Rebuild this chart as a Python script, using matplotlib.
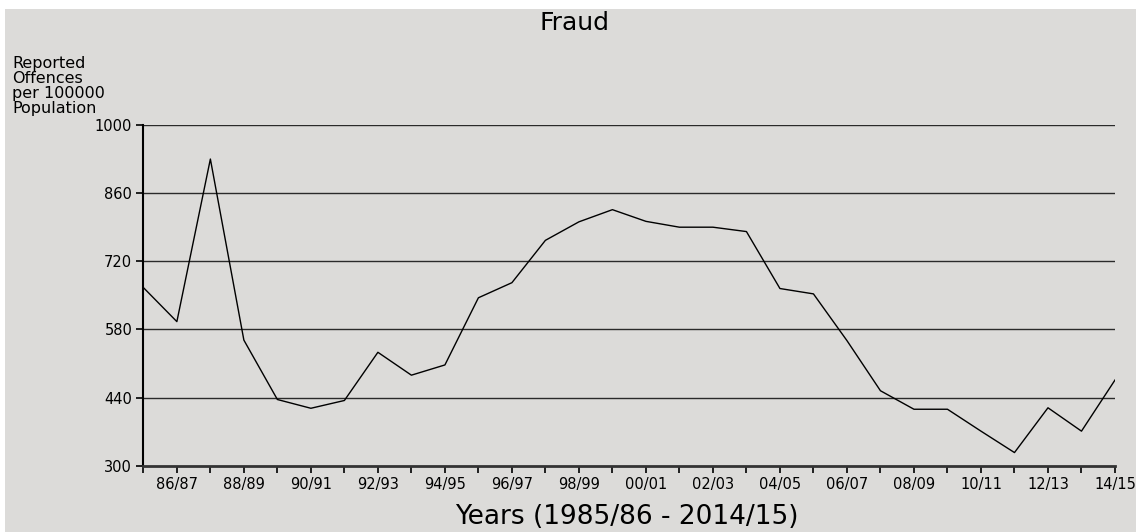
import numpy as np
import matplotlib.pyplot as plt
from matplotlib.patches import Rectangle

plt.rcParams['font.family'] = ['DejaVu Sans']

# Datos: delitos de fraude reportados por 100000 habitantes
years = ['85/86', '86/87', '87/88', '88/89', '89/90', '90/91', '91/92', '92/93',
         '93/94', '94/95', '95/96', '96/97', '97/98', '98/99', '99/00', '00/01',
         '01/02', '02/03', '03/04', '04/05', '05/06', '06/07', '07/08', '08/09',
         '09/10', '10/11', '11/12', '12/13', '13/14', '14/15']
fraud = [666, 596, 930, 558, 436, 418, 434, 533, 486, 507,
         645, 676, 763, 801, 826, 802, 790, 790, 781, 664,
         653, 557, 454, 416, 416, 371, 327, 419, 371, 476]
y_ticks = [300, 440, 580, 720, 860, 1000]

bg = '#dcdbd9'
fig = plt.figure(figsize=(11.36, 5.32), dpi=100, facecolor='white')
fig.patches.append(Rectangle((5 / 1136, 0), 1, 1 - 9 / 532, transform=fig.transFigure,
                             facecolor=bg, edgecolor='none', zorder=-10))

ax = fig.add_axes([0.1262, 0.1246, 0.8553, 0.6405])
ax.set_facecolor(bg)

x = np.arange(len(years))
ax.plot(x, fraud, color='black', linewidth=1.0, zorder=3)

ax.set_xlim(0, len(years) - 1)
ax.set_ylim(300, 1000)
ax.set_yticks(y_ticks)
ax.set_yticklabels([str(v) for v in y_ticks], fontsize=10.5)
ax.set_xticks(x)
ax.set_xticklabels([lab if i % 2 == 1 else '' for i, lab in enumerate(years)], fontsize=10.5)
ax.tick_params(axis='both', direction='out', length=5, width=1.2, color='black')
ax.tick_params(axis='x', pad=3)
ax.tick_params(axis='y', pad=3)

for v in y_ticks[1:]:
    ax.axhline(v, color='#2a2a2a', linewidth=1.0, zorder=1)

for side in ['top', 'right']:
    ax.spines[side].set_visible(False)
ax.spines['left'].set_linewidth(1.5)
ax.spines['bottom'].set_linewidth(2.0)
ax.spines['bottom'].set_color('#333333')

fig.text(575 / 1136, 1 - 23 / 532, 'Fraud', ha='center', va='center', fontsize=18)
fig.text(12 / 1136, 1 - 56 / 532, 'Reported\nOffences\nper 100000\nPopulation',
         ha='left', va='top', fontsize=11.5, linespacing=1.0)
fig.text(627 / 1136, 8 / 532, 'Years (1985/86 - 2014/15)', ha='center', va='baseline',
         fontsize=19)

fig.savefig('out.png', dpi=100, facecolor=fig.get_facecolor())
